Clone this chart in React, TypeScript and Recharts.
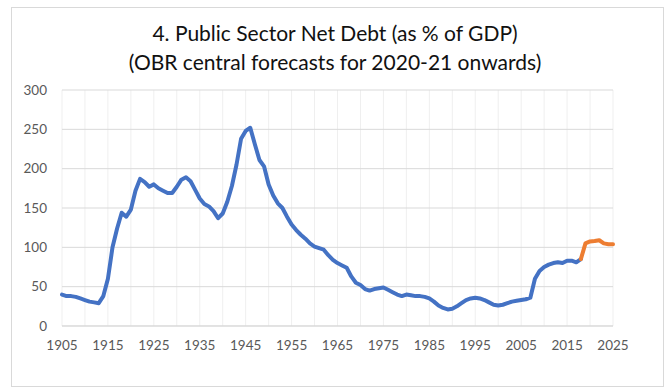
import React from "react";
import { CartesianGrid, Line, LineChart, XAxis, YAxis } from "recharts";

const firstYear = 1905;

// Public sector net debt, % of GDP, 1905 to 2018 (outturn)
const outturn = [
  40, 38, 38, 37, 35, 33, 31, 30, 29, 38,
  60, 100, 124, 144, 139, 148, 172, 187, 183, 177,
  180, 175, 172, 169, 169, 177, 186, 189, 184, 173,
  162, 155, 152, 146, 137, 143, 158, 178, 205, 238,
  248, 252, 231, 211, 203, 180, 166, 156, 150, 139,
  129, 122, 116, 111, 105, 101, 99, 97, 90, 84,
  80, 77, 74, 63, 55, 52, 47, 45, 47, 48,
  49, 46, 43, 40, 38, 40, 39, 38, 38, 37,
  35, 31, 26, 23, 21, 22, 25, 29, 33, 35,
  36, 35, 33, 30, 27, 26, 27, 29, 31, 32,
  33, 34, 36, 60, 70, 75, 78, 80, 81, 80,
  83, 83, 81, 85,
];

// OBR central forecasts, 2018 to 2025 (joined to the last outturn year)
const forecastStart = 2018;
const forecast = [85, 105, 107.5, 108, 109, 105, 104, 104];

const yTicks = [0, 50, 100, 150, 200, 250, 300];
const xTicks = [1905, 1915, 1925, 1935, 1945, 1955, 1965, 1975, 1985, 1995, 2005, 2015, 2025];
const gridYears = [1905, 1910, 1915, 1920, 1925, 1930, 1935, 1940, 1945, 1950, 1955, 1960, 1965, 1970, 1975, 1980, 1985, 1990, 1995, 2000, 2005, 2010, 2015, 2020, 2025];

const lastYear = forecastStart + forecast.length - 1;
const rows: Array<{ year: number; actual?: number; obr?: number }> = [];
for (let y = firstYear; y <= lastYear; y++) {
  const a = outturn[y - firstYear];
  const f = y >= forecastStart ? forecast[y - forecastStart] : undefined;
  rows.push({ year: y, actual: a, obr: f });
}

const font = "Lato, 'Open Sans', sans-serif";

export default function App() {
  const verticalGrid = (props: any) => {
    const scale = props?.xAxis?.scale;
    if (scale && typeof scale === "function") return gridYears.map((g) => scale(g));
    const off = props.offset;
    return gridYears.map((g) => off.left + ((g - firstYear) / (lastYear - firstYear)) * off.width);
  };

  return (
    <div style={{ position: "absolute", left: 0, top: 0, width: 667, height: 387, background: "#fff", fontFamily: font }}>
      <div
        style={{
          position: "absolute",
          left: 11,
          top: 7,
          width: 651,
          height: 378,
          border: "1px solid #d9d9d9",
        }}
      />
      <div style={{ position: "absolute", left: 0, width: 667, top: 18, textAlign: "center", fontSize: 21, lineHeight: "29px", color: "#111" }}>
        <div style={{ marginLeft: 3 }}>4. Public Sector Net Debt (as % of GDP)</div>
        <div style={{ marginLeft: 3 }}>(OBR central forecasts for 2020-21 onwards)</div>
      </div>
      <div style={{ position: "absolute", left: 0, top: 0 }}>
        <LineChart width={667} height={387} data={rows} margin={{ top: 90, right: 4, bottom: 31, left: 12 }}>
          <CartesianGrid horizontal={false} stroke="#efefef" strokeWidth={1} verticalCoordinatesGenerator={verticalGrid} />
          <CartesianGrid vertical={false} stroke="#d9d9d9" strokeWidth={1} yAxisId="left" />
          <XAxis
            dataKey="year"
            type="number"
            domain={[firstYear, lastYear]}
            ticks={xTicks}
            interval={0}
            tickLine={false}
            tickSize={0}
            tickMargin={14}
            axisLine={{ stroke: "#d9d9d9" }}
            height={30}
            tick={{ fill: "#595959", fontSize: 13.5, fontFamily: font }}
          />
          <YAxis
            yAxisId="left"
            domain={[0, 300]}
            ticks={yTicks}
            interval={0}
            axisLine={false}
            tickLine={false}
            tickSize={0}
            tickMargin={15}
            width={50}
            tick={{ fill: "#595959", fontSize: 13.5, fontFamily: font }}
          />
          <YAxis
            yAxisId="right"
            orientation="right"
            domain={[0, 300]}
            ticks={yTicks}
            interval={0}
            axisLine={false}
            tickLine={false}
            tickSize={0}
            tickMargin={14}
            width={50}
            tick={{ fill: "#595959", fontSize: 13.5, fontFamily: font, textAnchor: "start" }}
          />
          <Line
            yAxisId="left"
            type="linear"
            dataKey="actual"
            stroke="#4472C4"
            strokeWidth={4}
            dot={false}
            activeDot={false}
            connectNulls={false}
            strokeLinejoin="round"
            strokeLinecap="round"
            isAnimationActive={false}
          />
          <Line
            yAxisId="left"
            type="linear"
            dataKey="obr"
            stroke="#ED7D31"
            strokeWidth={4}
            dot={false}
            activeDot={false}
            connectNulls={false}
            strokeLinejoin="round"
            strokeLinecap="round"
            isAnimationActive={false}
          />
        </LineChart>
      </div>
    </div>
  );
}
